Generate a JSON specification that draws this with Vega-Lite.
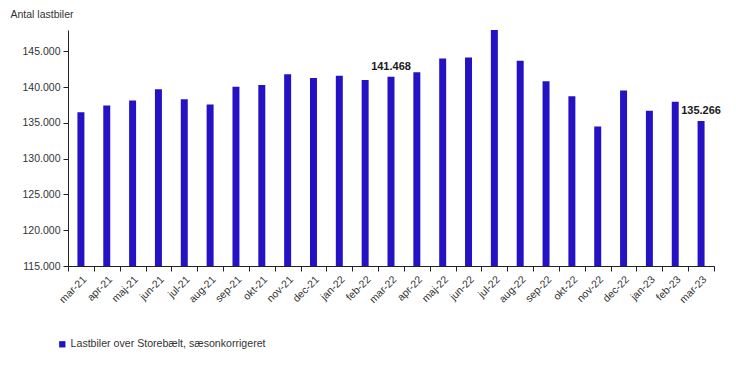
{
  "$schema": "https://vega.github.io/schema/vega-lite/v6.json",
  "width": 646,
  "height": 236,
  "autosize": {"type": "none"},
  "padding": {"left": 68, "top": 30, "right": 22, "bottom": 100},
  "background": "white",
  "config": {
    "locale": {"number": {"decimal": ",", "thousands": ".", "grouping": [3], "currency": ["", " kr."]}},
    "view": {"stroke": null},
    "font": "Liberation Sans"
  },
  "data": {
    "values": [
      {"month": "mar-21", "value": 136500},
      {"month": "apr-21", "value": 137450},
      {"month": "maj-21", "value": 138150},
      {"month": "jun-21", "value": 139700},
      {"month": "jul-21", "value": 138300},
      {"month": "aug-21", "value": 137600},
      {"month": "sep-21", "value": 140050},
      {"month": "okt-21", "value": 140300},
      {"month": "nov-21", "value": 141800},
      {"month": "dec-21", "value": 141300},
      {"month": "jan-22", "value": 141600},
      {"month": "feb-22", "value": 141000},
      {"month": "mar-22", "value": 141468},
      {"month": "apr-22", "value": 142100},
      {"month": "maj-22", "value": 144000},
      {"month": "jun-22", "value": 144150},
      {"month": "jul-22", "value": 148000},
      {"month": "aug-22", "value": 143700},
      {"month": "sep-22", "value": 140850},
      {"month": "okt-22", "value": 138750},
      {"month": "nov-22", "value": 134500},
      {"month": "dec-22", "value": 139550},
      {"month": "jan-23", "value": 136700},
      {"month": "feb-23", "value": 137970},
      {"month": "mar-23", "value": 135266}
    ]
  },
  "encoding": {
    "x": {
      "field": "month", "type": "ordinal", "sort": null,
      "scale": {"paddingInner": 0, "paddingOuter": 0},
      "axis": {
        "title": null, "labelAngle": -45, "labelFontSize": 10.5, "labelColor": "#333333",
        "tickBand": "extent", "tickSize": 5, "tickColor": "#222222", "domainColor": "#222222",
        "labelPadding": 3
      }
    },
    "y": {
      "field": "value", "type": "quantitative",
      "scale": {"domain": [115000, 148000], "nice": false, "zero": false},
      "axis": {
        "values": [115000, 120000, 125000, 130000, 135000, 140000, 145000],
        "format": ",.0f", "grid": false, "labelFontSize": 10.5, "labelColor": "#333333",
        "tickSize": 5, "tickColor": "#222222", "domainColor": "#222222", "labelPadding": 3,
        "title": "Antal lastbiler", "titleAngle": 0, "titleAlign": "left", "titleBaseline": "middle",
        "titleX": -58, "titleY": -16, "titleFontSize": 10.5, "titleFontWeight": "normal", "titleColor": "#333333"
      }
    }
  },
  "layer": [
    {
      "mark": {"type": "bar", "width": {"band": 0.27}, "clip": true},
      "encoding": {
        "color": {
          "datum": "Lastbiler over Storebælt, sæsonkorrigeret",
          "type": "nominal",
          "scale": {"range": ["#2412c4"]},
          "legend": {
            "title": null, "orient": "none", "legendX": -11, "legendY": 309,
            "symbolType": "square", "symbolSize": 40, "labelFontSize": 10.6, "labelColor": "#333333",
            "labelOffset": 3, "labelLimit": 400
          }
        }
      }
    },
    {
      "transform": [{"filter": "datum.month == 'mar-22' || datum.month == 'mar-23'"}],
      "mark": {"type": "text", "baseline": "bottom", "dy": -5, "fontWeight": "bold", "fontSize": 11, "color": "#1a1a1a"},
      "encoding": {
        "text": {"field": "value", "type": "quantitative", "format": ",.0f"}
      }
    }
  ]
}
